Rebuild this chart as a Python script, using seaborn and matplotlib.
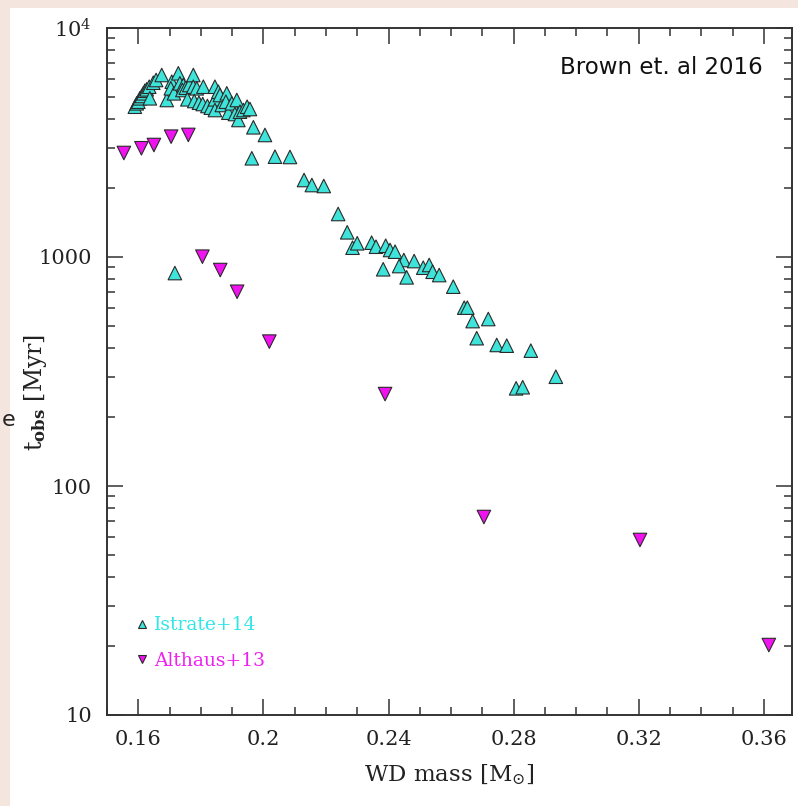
import numpy as np
import pandas as pd
import matplotlib
matplotlib.use("Agg")
import matplotlib.pyplot as plt
import seaborn as sns
from matplotlib.ticker import FixedLocator, FixedFormatter, MultipleLocator, NullFormatter, LogLocator
from matplotlib.patches import Rectangle

# ---- data ----
istrate_mass = [0.1589, 0.1595, 0.1600, 0.1605, 0.1611, 0.1616, 0.1621, 0.1627, 0.1635, 0.1637,
                0.1648, 0.1657, 0.1675, 0.1691, 0.1707, 0.1704, 0.1714, 0.1728, 0.1733, 0.1744,
                0.1741, 0.1752, 0.1763, 0.1757, 0.1776, 0.1776, 0.1787, 0.1779, 0.1794, 0.1808,
                0.1806, 0.1821, 0.1832, 0.1845, 0.1845, 0.1856, 0.1845, 0.1867, 0.1861, 0.1883,
                0.1880, 0.1888, 0.1899, 0.1915, 0.1909, 0.1920, 0.1925, 0.1936, 0.1948, 0.1957,
                0.1968, 0.2005, 0.1963, 0.2037, 0.2085, 0.1717, 0.2130, 0.2155, 0.2193,
                0.2239, 0.2268, 0.2285, 0.2300, 0.2346, 0.2360, 0.2391, 0.2405, 0.2421, 0.2383,
                0.2449, 0.2434, 0.2482, 0.2458, 0.2511, 0.2530, 0.2541, 0.2562, 0.2607, 0.2642,
                0.2652, 0.2669, 0.2719, 0.2682, 0.2746, 0.2778, 0.2855, 0.2808, 0.2829, 0.2935]
istrate_t = [4532, 4690, 4766, 4932, 5048, 5185, 5322, 5398, 5541, 4932,
             5768, 5929, 6234, 4849, 5828, 5453, 5185, 6341, 5733, 5637,
             5361, 5486, 5637, 4883, 6234, 5541, 5453, 4799, 4718, 5541,
             4657, 4564, 4487, 5541, 4883, 5269, 4384, 4611, 5098, 5185,
             4766, 4267, 4690, 4849, 4211, 3966, 4310, 4384, 4532, 4429,
             3685, 3411, 2698, 2742, 2734, 851, 2169, 2062, 2042,
             1541, 1282, 1098, 1148, 1155, 1109, 1120, 1073, 1055, 884,
             970, 913, 960, 815, 898, 923, 862, 834, 742, 601,
             601, 525, 536, 442, 413, 410, 390, 267, 270, 300]

althaus_mass = [0.1554, 0.1610, 0.1650, 0.1705, 0.1760, 0.1805, 0.1862, 0.1916, 0.2019,
                0.2389, 0.2705, 0.3204, 0.3616]
althaus_t = [2845, 2984, 3083, 3353, 3412, 1003, 877, 705, 427,
             252, 73.2, 58.1, 20.2]

series_names = ["Istrate+14", "Althaus+13"]
series_colors = ["#3ee3da", "#f013f0"]
legend_text_colors = ["#33e6e6", "#ee22ee"]
xtick_values = [0.16, 0.20, 0.24, 0.28, 0.32, 0.36]
xtick_labels = ["0.16", "0.2", "0.24", "0.28", "0.32", "0.36"]
ytick_values = [10, 100, 1000, 10000]
ytick_labels = ["10", "100", "1000", r"$10^4$"]

df = pd.concat([
    pd.DataFrame({"mass": istrate_mass, "t": istrate_t, "model": series_names[0]}),
    pd.DataFrame({"mass": althaus_mass, "t": althaus_t, "model": series_names[1]}),
], ignore_index=True)

# ---- style ----
sns.set_style("ticks")
plt.rcParams["font.family"] = ["DejaVu Serif", "DejaVu Sans"]
plt.rcParams["mathtext.fontset"] = "dejavuserif"

W, H = 798, 806
fig = plt.figure(figsize=(W / 100, H / 100), dpi=100, facecolor="#f4e6df")
fig.patches.append(Rectangle((10 / W, 0), (W - 10) / W, (H - 8) / H,
                             transform=fig.transFigure, facecolor="white",
                             edgecolor="none", zorder=-10))

L, R, T, B = 107, 792, 28, 715
ax = fig.add_axes([L / W, 1 - B / H, (R - L) / W, (B - T) / H])
ax.set_facecolor("white")

sns.scatterplot(data=df, x="mass", y="t", hue="model", style="model",
                hue_order=series_names, style_order=series_names,
                palette=dict(zip(series_names, series_colors)),
                markers={series_names[0]: "^", series_names[1]: "v"},
                s=95, edgecolor="#2a2a2a", linewidth=0.8, ax=ax, zorder=3)

ax.set_yscale("log")
ax.set_xlim(0.15, 0.369)
ax.set_ylim(10, 10000)

ax.xaxis.set_major_locator(FixedLocator(xtick_values))
ax.xaxis.set_major_formatter(FixedFormatter(xtick_labels))
ax.xaxis.set_minor_locator(MultipleLocator(0.01))
ax.yaxis.set_major_locator(FixedLocator(ytick_values))
ax.yaxis.set_major_formatter(FixedFormatter(ytick_labels))
ax.yaxis.set_minor_locator(LogLocator(base=10, subs=np.arange(2, 10)))
ax.yaxis.set_minor_formatter(NullFormatter())

dark = "#333333"
for sp in ax.spines.values():
    sp.set_visible(True)
    sp.set_linewidth(1.4)
    sp.set_color(dark)
ax.tick_params(which="both", direction="in", top=True, right=True, color=dark, width=1.1)
ax.tick_params(which="major", length=11.5, labelsize=15, pad=11, labelcolor="#222222")
ax.tick_params(which="minor", length=5.8)

ax.set_xlabel(r"WD mass [M$_{\odot}$]", fontsize=16.5, color="#222222")
ax.set_ylabel(r"t$_{\mathbf{obs}}$ [Myr]", fontsize=17, color="#222222")
ax.yaxis.set_label_coords(-0.085, 0.47)
ax.xaxis.set_label_coords(0.5, -0.07)
ax.xaxis.label.set_va("top")

ax.text(0.958, 0.943, "Brown et. al 2016", transform=ax.transAxes, ha="right", va="center",
        fontsize=16.5, family="DejaVu Sans", color="#111111")

handles, labels = ax.get_legend_handles_labels()
leg = ax.legend(handles, labels, loc="lower left", bbox_to_anchor=(0.01, 0.041),
                frameon=False, markerscale=0.65, handletextpad=0.05, labelspacing=0.95,
                prop={"size": 13.5, "family": "DejaVu Serif"}, handlelength=1.2)
for txt, c in zip(leg.get_texts(), legend_text_colors):
    txt.set_color(c)

fig.text(2 / W, 1 - 420 / H, "e", fontsize=16, family="DejaVu Sans", color="#222222",
         ha="left", va="center")

fig.savefig("out.png", dpi=100, facecolor=fig.get_facecolor())
